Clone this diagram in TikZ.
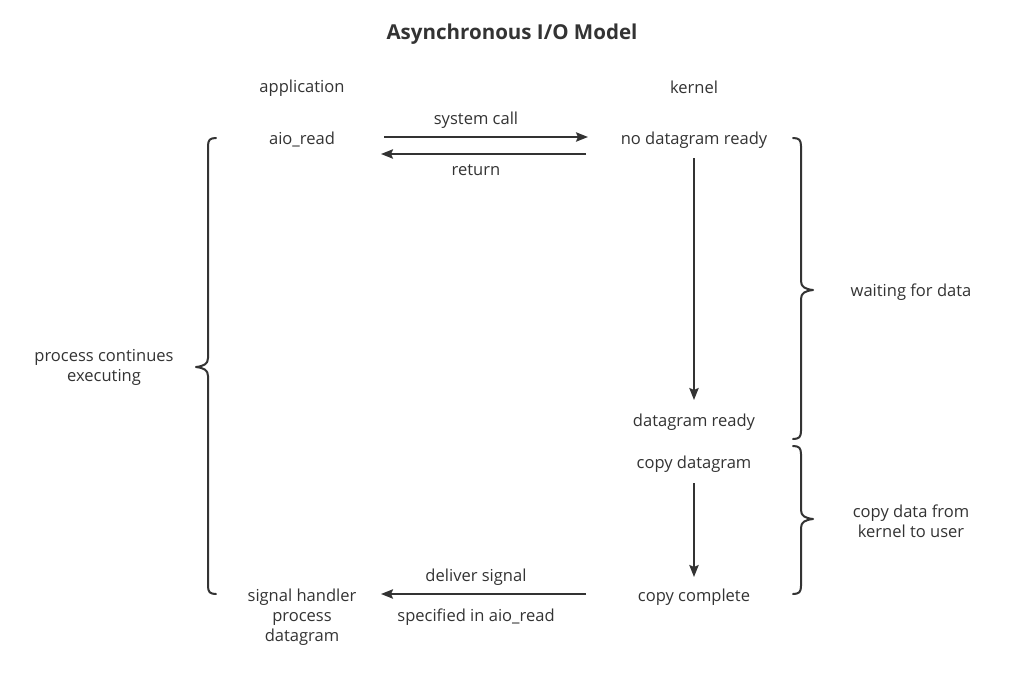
\documentclass[tikz,border=0pt]{standalone}
\usepackage{fontspec}
\setmainfont{Open Sans}
\usetikzlibrary{arrows.meta}
\definecolor{ink}{HTML}{333333}
\tikzset{
  lbl/.style={text=ink, font=\fontsize{12.4pt}{15pt}\selectfont, align=center, inner sep=0pt, yshift=-1.3pt},
  conn/.style={draw=ink, line width=1.5pt, -{Stealth[length=9pt,width=7pt,inset=1.5pt]}},
  brc/.style={draw=ink, line width=1.5pt, line cap=round, line join=round}
}
\begin{document}
\begin{tikzpicture}[x=0.75pt,y=-0.75pt]
\useasboundingbox (0,0) rectangle (1013,676);
% title
\node[lbl, font=\fontsize{15.4pt}{18pt}\selectfont\bfseries] (title) at (512,32) {Asynchronous I/O Model};
% headers
\node[lbl] (app) at (302,86) {application};
\node[lbl] (ker) at (694,86) {kernel};
% rows
\node[lbl] (aio) at (302,138) {aio\_read};
\node[lbl] (nodg) at (694,138) {no datagram ready};
\node[lbl] (dgr) at (694,420) {datagram ready};
\node[lbl] (cpd) at (694,462) {copy datagram};
\node[lbl] (cpc) at (694,595) {copy complete};
\node[lbl] (sig) at (302,615) {signal handler\\process\\datagram};
% arrow labels
\node[lbl] (lsc) at (476,118) {system call};
\node[lbl] (lret) at (476,168) {return};
\node[lbl] (ldel) at (476,575) {deliver signal};
\node[lbl] (lspec) at (476,615) {specified in aio\_read};
% brace labels
\node[lbl] (lproc) at (104,366) {process continues\\executing};
\node[lbl] (lwait) at (911,290) {waiting for data};
\node[lbl] (lcopy) at (911,520) {copy data from\\kernel to user};
% connector endpoints
\coordinate (scA) at (384,137);
\coordinate (scB) at (588,137);
\coordinate (reA) at (586,154);
\coordinate (reB) at (381,154);
\coordinate (v1A) at (694,158);
\coordinate (v1B) at (694,400);
\coordinate (v2A) at (694,483);
\coordinate (v2B) at (694,577);
\coordinate (dsA) at (586,594);
\coordinate (dsB) at (381,594);
% connectors
\draw[conn] (scA) -- (scB);
\draw[conn] (reA) -- (reB);
\draw[conn] (v1A) -- (v1B);
\draw[conn] (v2A) -- (v2B);
\draw[conn] (dsA) -- (dsB);
% left brace
\draw[brc] (216,138) .. controls (210,138) and (208,140) .. (208,146)
  -- (208,358) .. controls (208,364) and (204,366) .. (196,367)
  .. controls (204,368) and (208,370) .. (208,376)
  -- (208,586) .. controls (208,592) and (210,594) .. (216,594);
% right brace 1
\draw[brc] (793,138) .. controls (799,138) and (801,140) .. (801,146)
  -- (801,281) .. controls (801,287) and (805,289) .. (813,290)
  .. controls (805,291) and (801,293) .. (801,299)
  -- (801,431) .. controls (801,437) and (799,439) .. (793,439);
% right brace 2
\draw[brc] (793,446) .. controls (799,446) and (801,448) .. (801,454)
  -- (801,510) .. controls (801,516) and (805,518) .. (813,519)
  .. controls (805,520) and (801,522) .. (801,528)
  -- (801,586) .. controls (801,592) and (799,594) .. (793,594);
\end{tikzpicture}
\end{document}
